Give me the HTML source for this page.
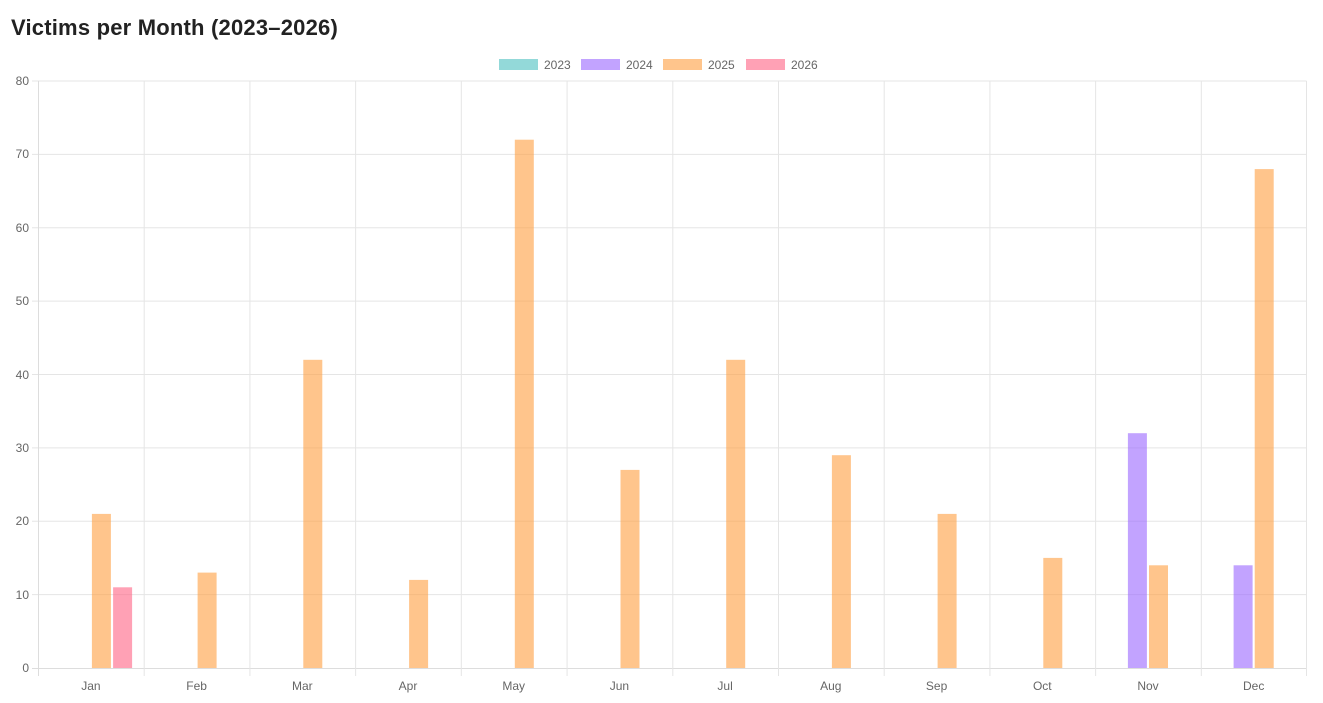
<!DOCTYPE html>
<html><head><meta charset="utf-8"><style>
body{margin:0;background:#fff;width:1323px;height:703px;overflow:hidden;font-family:"Liberation Sans",sans-serif}
h1{position:absolute;left:11px;top:15px;margin:0;font-size:22px;font-weight:bold;color:#222;font-family:"Liberation Sans",sans-serif;letter-spacing:0.2px}
svg{position:absolute;left:0;top:0}
</style></head><body>
<h1>Victims per Month (2023–2026)</h1>
<svg width="1323" height="703" font-family="Liberation Sans, sans-serif" font-size="12" fill="#666">
<g stroke="#e5e5e5" stroke-width="1">
<line x1="32" x2="1306.5" y1="668.5" y2="668.5" stroke="#ddd"/>
<line x1="32" x2="1306.5" y1="594.6" y2="594.6"/>
<line x1="32" x2="1306.5" y1="521.3" y2="521.3"/>
<line x1="32" x2="1306.5" y1="447.9" y2="447.9"/>
<line x1="32" x2="1306.5" y1="374.5" y2="374.5"/>
<line x1="32" x2="1306.5" y1="301.1" y2="301.1"/>
<line x1="32" x2="1306.5" y1="227.8" y2="227.8"/>
<line x1="32" x2="1306.5" y1="154.4" y2="154.4"/>
<line x1="32" x2="1306.5" y1="81" y2="81"/>
<line x1="38.5" x2="38.5" y1="81" y2="676" stroke="#ddd"/>
<line x1="144.2" x2="144.2" y1="81" y2="676"/>
<line x1="249.9" x2="249.9" y1="81" y2="676"/>
<line x1="355.6" x2="355.6" y1="81" y2="676"/>
<line x1="461.3" x2="461.3" y1="81" y2="676"/>
<line x1="567.1" x2="567.1" y1="81" y2="676"/>
<line x1="672.8" x2="672.8" y1="81" y2="676"/>
<line x1="778.5" x2="778.5" y1="81" y2="676"/>
<line x1="884.2" x2="884.2" y1="81" y2="676"/>
<line x1="989.9" x2="989.9" y1="81" y2="676"/>
<line x1="1095.6" x2="1095.6" y1="81" y2="676"/>
<line x1="1201.3" x2="1201.3" y1="81" y2="676"/>
<line x1="1306.5" x2="1306.5" y1="81" y2="676"/>
</g>
<g text-anchor="end">
<text x="29" y="672">0</text><text x="29" y="599">10</text><text x="29" y="525">20</text><text x="29" y="452">30</text><text x="29" y="379">40</text><text x="29" y="305">50</text><text x="29" y="232">60</text><text x="29" y="158">70</text><text x="29" y="85">80</text>
</g>
<g text-anchor="middle">
<text x="90.9" y="690">Jan</text><text x="196.6" y="690">Feb</text><text x="302.3" y="690">Mar</text><text x="408" y="690">Apr</text><text x="513.7" y="690">May</text><text x="619.4" y="690">Jun</text><text x="725.1" y="690">Jul</text><text x="830.8" y="690">Aug</text><text x="936.6" y="690">Sep</text><text x="1042.3" y="690">Oct</text><text x="1148" y="690">Nov</text><text x="1253.7" y="690">Dec</text>
</g>
<g fill="rgba(255,159,64,0.6)">
<rect x="91.9" y="513.9" width="19" height="154.1"/>
<rect x="197.6" y="572.6" width="19" height="95.4"/>
<rect x="303.3" y="359.8" width="19" height="308.2"/>
<rect x="409.1" y="579.9" width="19" height="88.1"/>
<rect x="514.8" y="139.7" width="19" height="528.3"/>
<rect x="620.5" y="469.9" width="19" height="198.1"/>
<rect x="726.2" y="359.8" width="19" height="308.2"/>
<rect x="831.9" y="455.2" width="19" height="212.8"/>
<rect x="937.6" y="513.9" width="19" height="154.1"/>
<rect x="1043.3" y="557.9" width="19" height="110.1"/>
<rect x="1149" y="565.3" width="19" height="102.7"/>
<rect x="1254.7" y="169.1" width="19" height="498.9"/>
</g>
<g fill="rgba(153,102,255,0.6)">
<rect x="1127.9" y="433.2" width="19" height="234.8"/>
<rect x="1233.6" y="565.3" width="19" height="102.7"/>
</g>
<rect x="113.1" y="587.3" width="19" height="80.7" fill="rgba(255,99,132,0.6)"/>
<rect x="499" y="59" width="39" height="11" fill="rgba(75,192,192,0.6)"/>
<text x="544" y="69">2023</text>
<rect x="581" y="59" width="39" height="11" fill="rgba(153,102,255,0.6)"/>
<text x="626" y="69">2024</text>
<rect x="663" y="59" width="39" height="11" fill="rgba(255,159,64,0.6)"/>
<text x="708" y="69">2025</text>
<rect x="746" y="59" width="39" height="11" fill="rgba(255,99,132,0.6)"/>
<text x="791" y="69">2026</text>
</svg>
</body></html>
